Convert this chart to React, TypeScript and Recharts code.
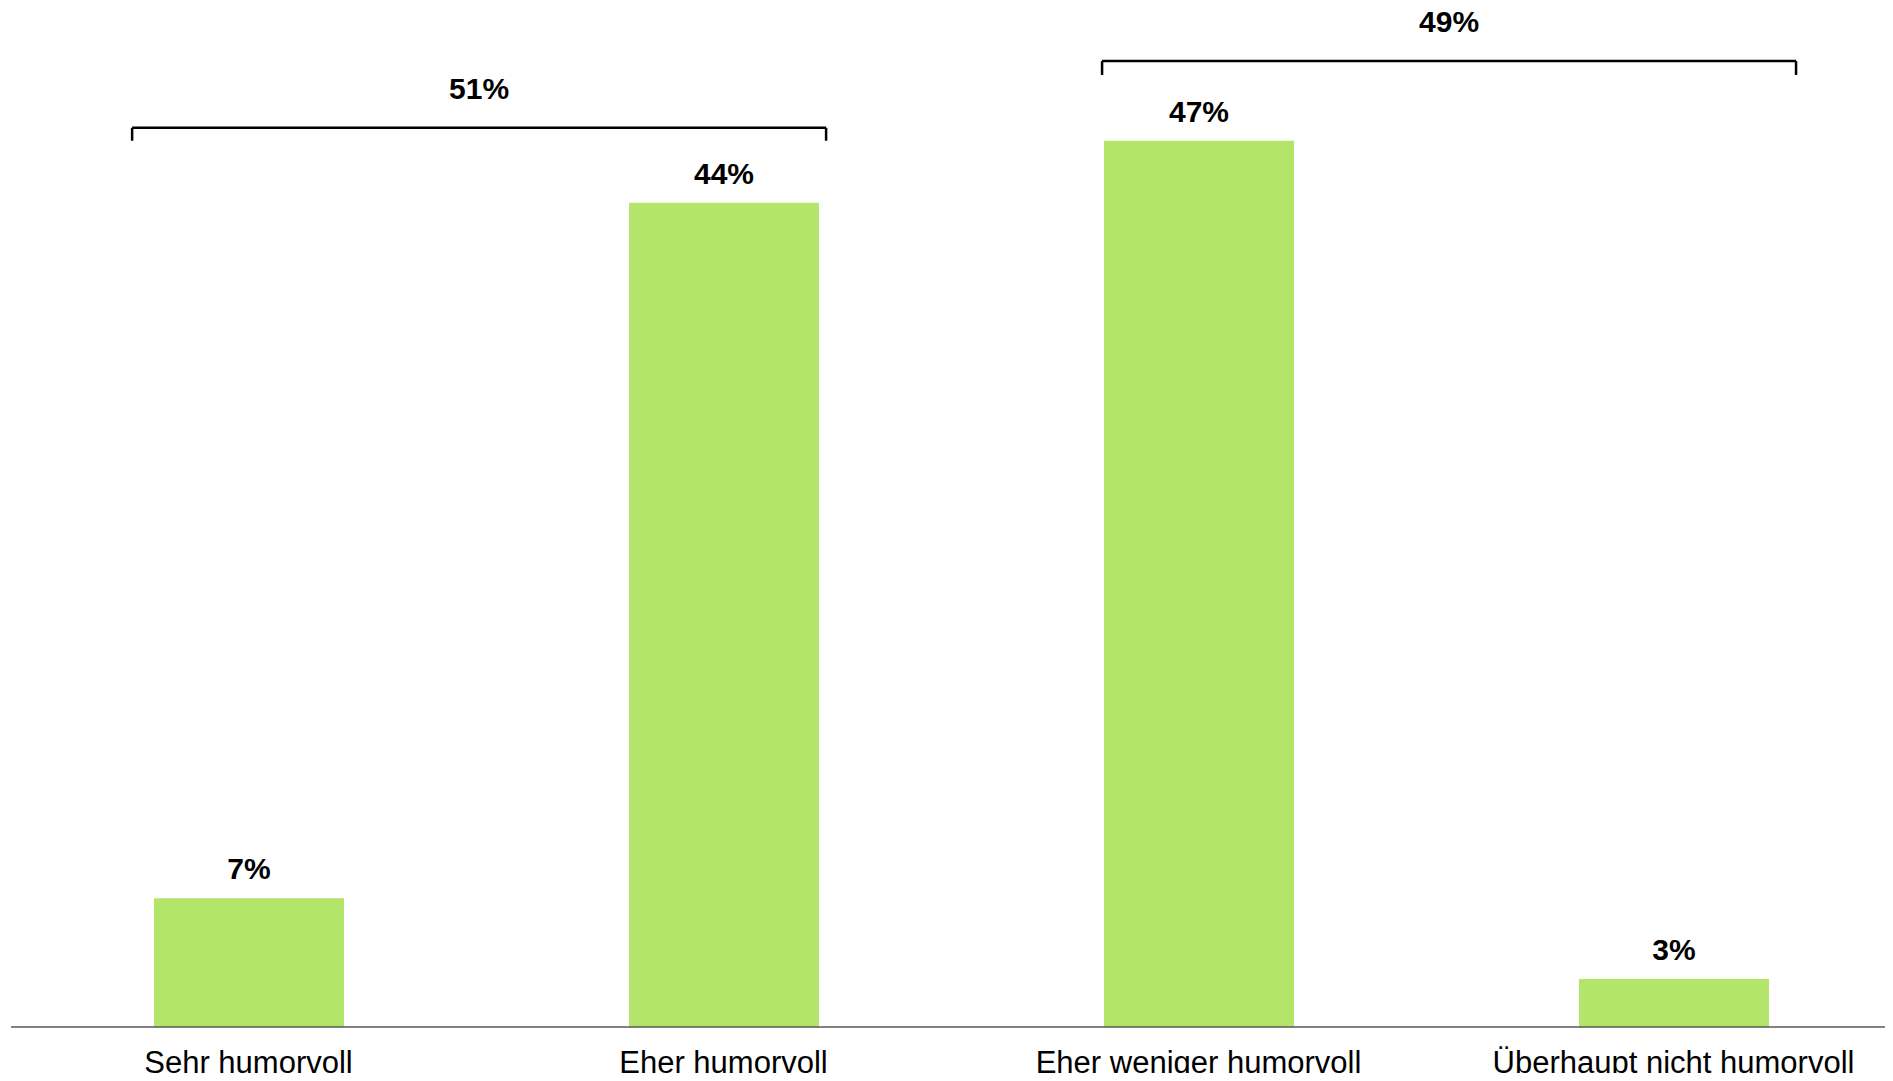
import React from 'react';
import { BarChart, Bar, XAxis, YAxis, LabelList, ReferenceLine } from 'recharts';

// Categories and survey shares (bar heights, labels as printed)
const categories = ['Sehr humorvoll', 'Eher humorvoll', 'Eher weniger humorvoll', 'Überhaupt nicht humorvoll'];
const shares = [6.85, 43.85, 47.15, 2.55];
const shareLabels = ['7%', '44%', '47%', '3%'];

// Summary brackets: [from, to] along the category axis, line level and tip level, label
const bracketFrom = [-0.245, 1.797];
const bracketTo = [1.216, 3.258];
const bracketLevel = [47.84, 51.39];
const bracketTip = [47.15, 50.65];
const bracketLabels = ['51%', '49%'];

const BAR_COLOR = '#b3e56a';
const FONT = '"Liberation Sans", Arial, Helvetica, sans-serif';

const data = categories.map((name, i) => ({
  pos: i,
  name,
  value: shares[i],
  label: shareLabels[i],
}));

const App: React.FC = () => {
  return (
    <div style={{ width: 1885, height: 1081, overflow: 'hidden', marginTop: -8, marginBottom: -8, fontFamily: FONT, background: '#fff' }}>
      <BarChart width={1910} height={1081} data={data} margin={{ top: 12, right: 7, bottom: 0, left: 3 }}>
        <XAxis
          type="number"
          dataKey="pos"
          domain={[-0.5, 3.5]}
          ticks={[0, 1, 2, 3]}
          interval={0}
          tickFormatter={(i: number) => categories[i]}
          tickLine={false}
          tickSize={0}
          tickMargin={24}
          height={54}
          axisLine={{ stroke: '#595959', strokeWidth: 1.5 }}
          tick={{ fill: '#000', fontSize: 31, fontFamily: FONT }}
        />
        <YAxis type="number" hide domain={[0, 54]} />
        <Bar dataKey="value" fill={BAR_COLOR} barSize={190} isAnimationActive={false}>
          <LabelList dataKey="label" position="top" offset={19} fill="#000" fontSize={30} fontWeight="bold" fontFamily={FONT} />
        </Bar>
        {bracketLabels.map((lbl, i) => (
          <ReferenceLine
            key={'h' + i}
            segment={[{ x: bracketFrom[i], y: bracketLevel[i] }, { x: bracketTo[i], y: bracketLevel[i] }]}
            stroke="#000"
            strokeWidth={2.5}
            ifOverflow="visible"
            label={{ value: lbl, position: 'top', offset: 29, fill: '#000', fontSize: 30, fontWeight: 'bold', fontFamily: FONT }}
          />
        ))}
        {bracketLabels.map((lbl, i) => (
          <ReferenceLine
            key={'l' + i}
            segment={[{ x: bracketFrom[i], y: bracketLevel[i] }, { x: bracketFrom[i], y: bracketTip[i] }]}
            stroke="#000"
            strokeWidth={2.5}
            ifOverflow="visible"
          />
        ))}
        {bracketLabels.map((lbl, i) => (
          <ReferenceLine
            key={'r' + i}
            segment={[{ x: bracketTo[i], y: bracketLevel[i] }, { x: bracketTo[i], y: bracketTip[i] }]}
            stroke="#000"
            strokeWidth={2.5}
            ifOverflow="visible"
          />
        ))}
      </BarChart>
    </div>
  );
};

export default App;
